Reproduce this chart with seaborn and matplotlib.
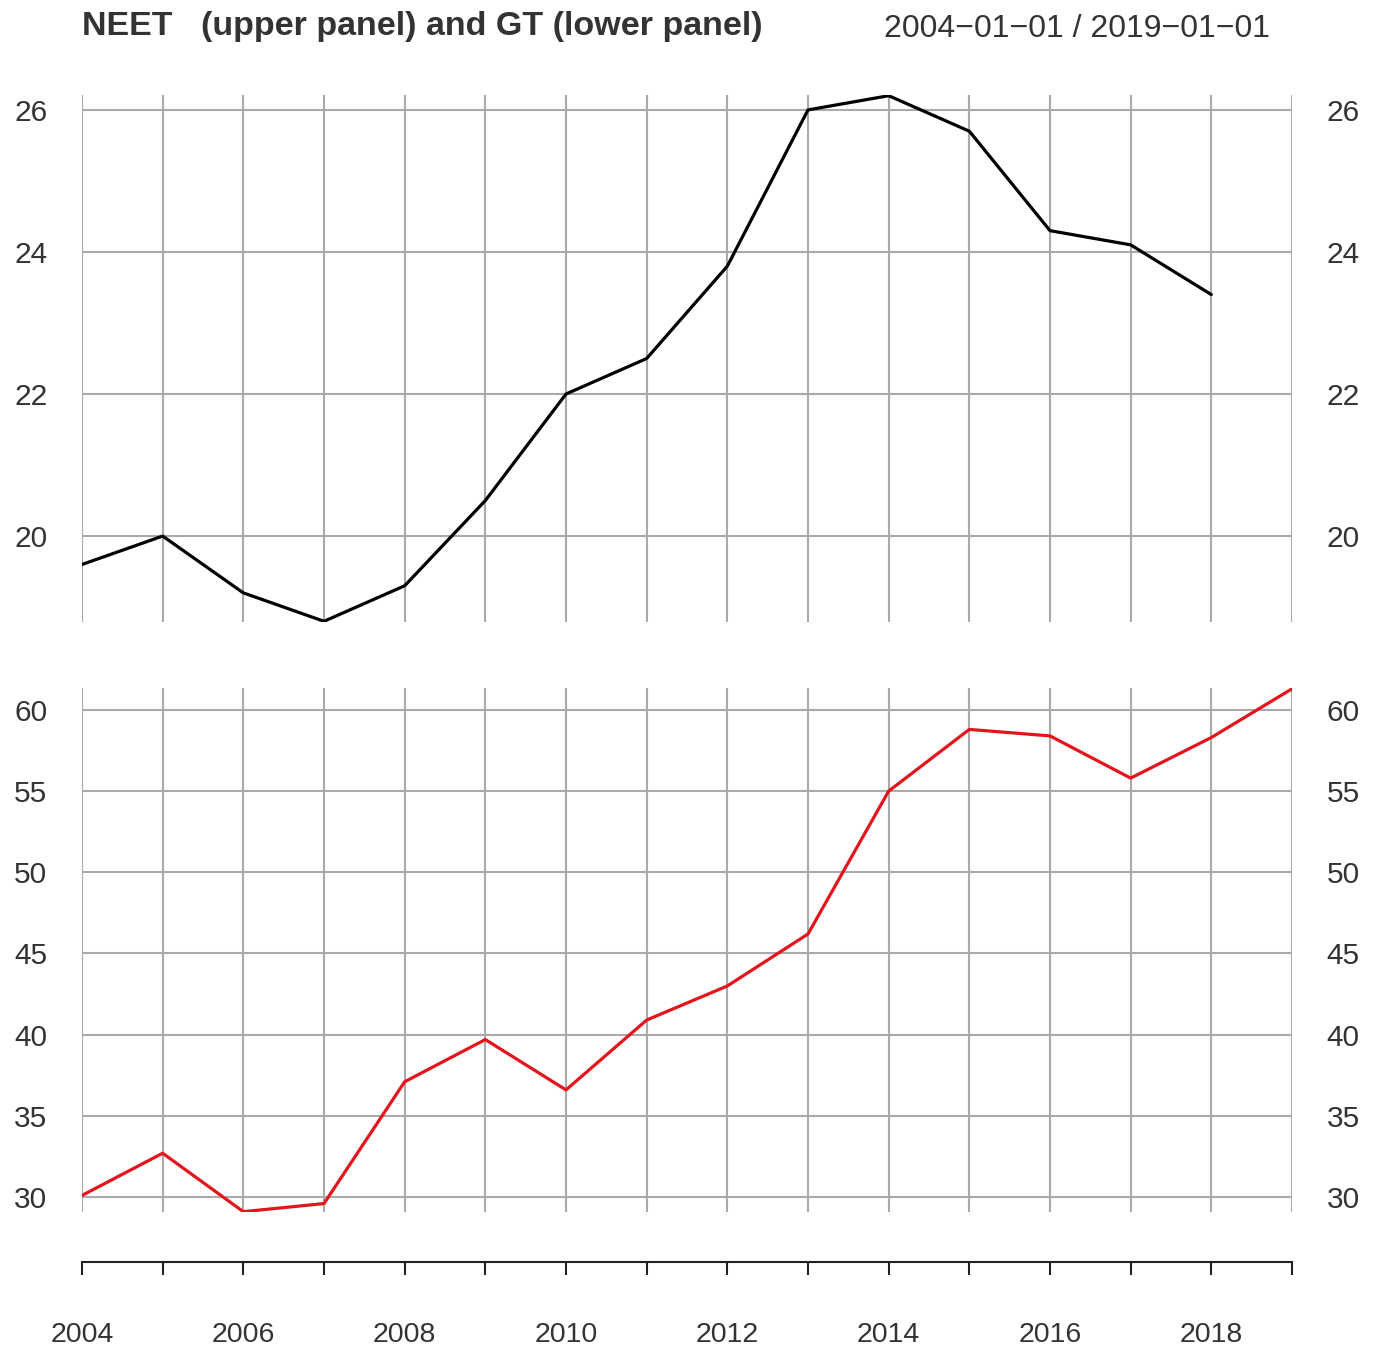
import numpy as np
import pandas as pd
import matplotlib
matplotlib.use("Agg")
import matplotlib.pyplot as plt
import seaborn as sns

years_neet = [2004, 2005, 2006, 2007, 2008, 2009, 2010, 2011, 2012, 2013, 2014, 2015, 2016, 2017, 2018]
neet = [19.6, 20.0, 19.2, 18.8, 19.3, 20.5, 22.0, 22.5, 23.8, 26.0, 26.2, 25.7, 24.3, 24.1, 23.4]

years_gt = [2004, 2005, 2006, 2007, 2008, 2009, 2010, 2011, 2012, 2013, 2014, 2015, 2016, 2017, 2018, 2019]
gt = [30.1, 32.7, 29.1, 29.6, 37.1, 39.7, 36.6, 40.9, 43.0, 46.2, 55.0, 58.8, 58.4, 55.8, 58.3, 61.3]

neet_ticks = [20, 22, 24, 26]
gt_ticks = [30, 35, 40, 45, 50, 55, 60]
all_years = list(range(2004, 2020))
label_years = list(range(2004, 2019, 2))

title_left = "NEET   (upper panel) and GT (lower panel)"
title_right = "2004\u221201\u221201 / 2019\u221201\u221201"

sns.set_style("white")
plt.rcParams["font.family"] = ["Liberation Sans", "DejaVu Sans"]

df_neet = pd.DataFrame({"year": years_neet, "value": neet})
df_gt = pd.DataFrame({"year": years_gt, "value": gt})

fig = plt.figure(figsize=(13.8, 13.52), dpi=100)
L, W = 82 / 1380, 1210 / 1380
H = 1352

def fy(p):
    return 1 - p / H

ax1 = fig.add_axes([L, fy(622), W, fy(95) - fy(622)])
ax2 = fig.add_axes([L, fy(1212), W, fy(688) - fy(1212)])
ax3 = fig.add_axes([L, fy(1262), W, 0.0001])

grid_c = "#aaaaaa"
txt_c = "#333333"

def style_panel(ax, ticks, ylim):
    ax.set_xlim(2004, 2019)
    ax.set_ylim(*ylim)
    ax.set_xticks(all_years)
    ax.set_yticks(ticks)
    ax.set_xticklabels([])
    ax.grid(True, color=grid_c, linewidth=1.5)
    ax.set_axisbelow(True)
    for s in ax.spines.values():
        s.set_visible(False)
    ax.tick_params(axis="x", length=0)
    ax.tick_params(axis="y", length=0, labelsize=21.5, labelcolor=txt_c,
                   left=False, right=False, labelleft=True, labelright=True, pad=25)
    ax.set_xlabel("")
    ax.set_ylabel("")

sns.lineplot(data=df_neet, x="year", y="value", ax=ax1, color="black", linewidth=2.3)
sns.lineplot(data=df_gt, x="year", y="value", ax=ax2, color="#e3141c", linewidth=2.3)
style_panel(ax1, neet_ticks, (18.79, 26.21))
style_panel(ax2, gt_ticks, (29.08, 61.35))

# bottom axis
ax3.set_xlim(2004, 2019)
ax3.set_yticks([])
for k in ["top", "left", "right"]:
    ax3.spines[k].set_visible(False)
ax3.spines["bottom"].set_linewidth(1.5)
ax3.spines["bottom"].set_color("#222222")
ax3.set_xticks(all_years)
ax3.set_xticklabels([str(y) if y in label_years else "" for y in all_years])
ax3.tick_params(axis="x", bottom=True, direction="out", length=9.5, width=1.5, color="#222222",
                labelsize=20.5, labelcolor=txt_c, pad=34)
ax3.patch.set_visible(False)

fig.text(L, fy(27), title_left, fontsize=24.5, fontweight="bold", color=txt_c,
         ha="left", va="center")
fig.text(1270 / 1380, fy(29), title_right, fontsize=23, color=txt_c,
         ha="right", va="center")

fig.savefig("out.png", dpi=100, facecolor="white")
